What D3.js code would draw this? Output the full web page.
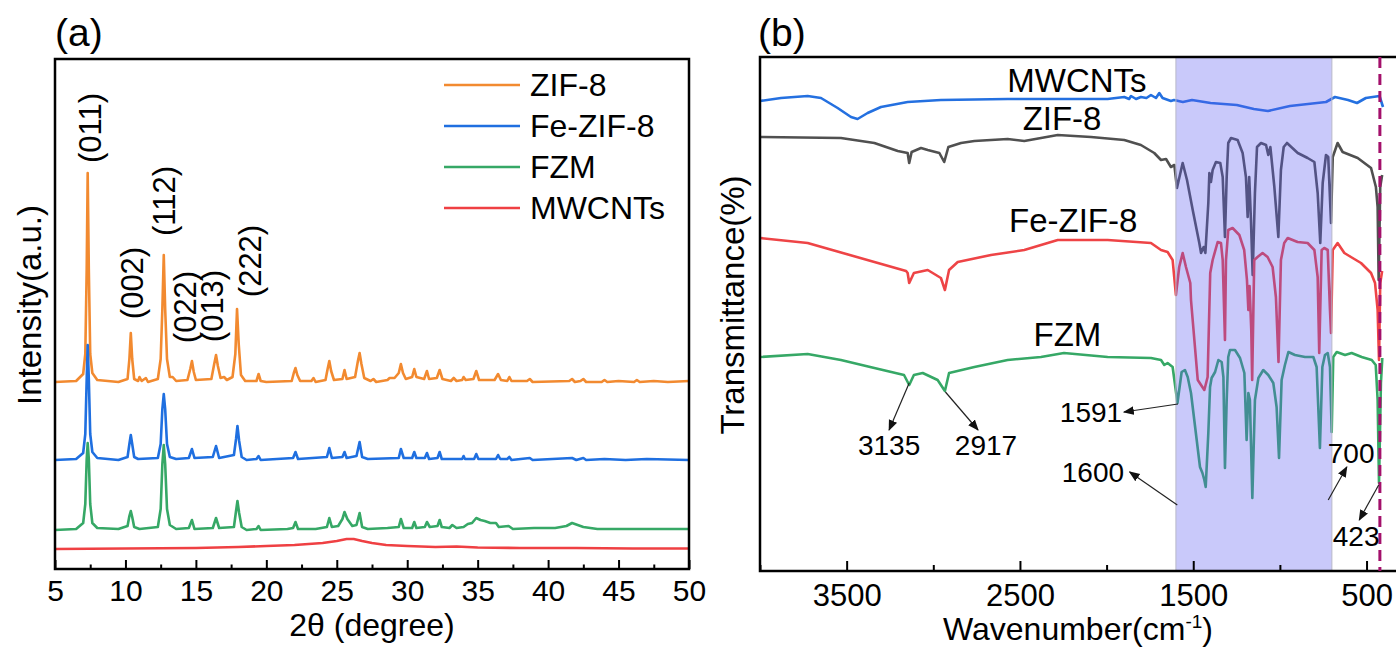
<!DOCTYPE html>
<html>
<head>
<meta charset="utf-8">
<script src="https://cdn.jsdelivr.net/npm/d3@7"></script>
<style>
  html, body { margin: 0; padding: 0; background: #fff; }
  svg text { font-family: "Liberation Sans", Arial, sans-serif; fill: #000; }
</style>
</head>
<body>
<svg id="fig" width="1396" height="647"></svg>
<script>
// ---------- panel (a): XRD, [2theta, intensity a.u.] (curves already offset) ----------
const xrdZif8 = [[5,187],[6.5,188],[7.0,195],[7.15,215],[7.25,300],[7.32,396],[7.4,300],[7.5,215],[7.65,196],[8.0,189],[9.5,187],
  [10.15,190],[10.28,210],[10.38,236],[10.48,210],[10.62,190],[10.9,188],[11.0,192],[11.15,188],[11.45,191],[11.6,187],
  [12.3,190],[12.5,210],[12.62,260],[12.72,314],[12.82,260],[12.95,210],[13.15,192],[13.35,192],[13.6,188],
  [14.4,189],[14.6,200],[14.72,208],[14.85,197],[15.0,189],[16.1,190],[16.3,205],[16.43,214],[16.56,203],[16.75,191],
  [17.0,192],[17.2,189],[17.6,192],[17.8,215],[17.92,260],[18.04,225],[18.2,194],[18.5,188],[19.3,188],[19.45,195],[19.6,188],
  [20.0,187],[21.8,188],[21.95,196],[22.07,201],[22.2,194],[22.4,188],[23.2,188],[23.35,191],[23.5,187],
  [24.2,189],[24.35,200],[24.47,208],[24.6,198],[24.8,189],[25.4,190],[25.55,199],[25.7,190],
  [26.3,192],[26.5,208],[26.62,216],[26.75,205],[26.95,191],[27.4,188],[27.6,190],[27.8,187],
  [28.6,189],[28.75,191],[29.1,191],[29.4,196],[29.55,205],[29.7,196],[29.9,190],[30.35,192],[30.5,200],[30.65,192],
  [31.2,190],[31.4,198],[31.55,190],[32.1,191],[32.3,199],[32.5,190],[33.1,188],[33.3,191],[33.5,188],
  [33.9,189],[34.0,192],[34.15,189],[34.7,190],[34.9,198],[35.1,189],[36.2,189],[36.45,195],[36.65,189],
  [37.1,188],[37.25,192],[37.4,188],[38.5,188],[38.7,190],[38.9,187],[41.5,188],[41.7,190],[41.9,187],
  [42.3,188],[42.5,190],[42.7,187],[43.8,187],[44.0,189],[44.2,187],[45.0,188],[46.1,187],[46.3,189],[46.5,187],
  [47.5,188],[48.5,187],[50,188]];

const xrdFeZif8 = [[5,109],[6.5,110],[7.0,116],[7.15,135],[7.25,190],[7.32,224],[7.4,190],[7.5,135],[7.65,117],[8.0,111],[9.5,109],
  [10.15,112],[10.28,125],[10.38,134],[10.48,125],[10.62,112],[10.9,110],[12.3,111],[12.5,125],[12.62,160],[12.72,175],
  [12.82,160],[12.95,125],[13.15,112],[13.6,110],[14.5,111],[14.72,120],[14.9,111],[16.2,112],[16.43,123],[16.65,111],
  [17.7,114],[17.85,130],[17.95,143],[18.07,128],[18.25,112],[18.6,109],[19.3,110],[19.45,113],[19.6,109],
  [21.9,111],[22.07,117],[22.25,110],[24.3,112],[24.47,121],[24.65,111],[25.4,112],[25.55,117],[25.7,111],
  [26.4,113],[26.62,127],[26.8,112],[27.2,110],[29.4,111],[29.55,120],[29.75,111],[30.35,111],[30.5,117],[30.65,111],
  [31.25,111],[31.4,116],[31.55,110],[32.15,111],[32.3,117],[32.45,110],[33.9,110],[34.0,113],[34.1,110],
  [34.75,110],[34.9,115],[35.05,110],[36.3,110],[36.45,114],[36.6,110],[37.1,110],[37.25,112],[37.4,109],
  [38.7,111],[38.9,109],[41.7,111],[42.0,109],[42.5,111],[42.7,109],[44.0,110],[45.5,109],[47.0,110],[50,109]];

const xrdFzm = [[5,39],[6.5,40],[7.0,46],[7.15,65],[7.25,110],[7.32,126],[7.4,110],[7.5,65],[7.65,46],[8.0,41],[9.5,40],
  [10.15,43],[10.28,53],[10.38,58],[10.48,52],[10.62,42],[11.0,40],[12.3,42],[12.5,60],[12.62,105],[12.72,124],
  [12.82,105],[12.95,60],[13.15,44],[13.6,40],[14.5,41],[14.72,49],[14.9,40],[16.2,41],[16.43,51],[16.65,41],
  [17.7,42],[17.85,58],[17.95,68],[18.07,56],[18.25,42],[18.6,39],[19.3,40],[19.45,43],[19.6,39],[21.5,40],
  [21.9,41],[22.07,47],[22.25,40],[23.5,40],[24.3,42],[24.47,51],[24.65,42],[25.1,43],[25.4,50],[25.55,57],
  [25.75,50],[26.1,43],[26.4,44],[26.62,56],[26.8,42],[27.2,40],[28.6,41],[29.4,42],[29.55,50],[29.75,41],
  [30.35,41],[30.5,47],[30.65,41],[31.25,42],[31.4,47],[31.6,42],[32.15,43],[32.3,49],[32.45,42],[33.0,41],
  [33.2,44],[33.5,41],[34.0,42],[34.3,45],[34.6,46],[34.9,51],[35.2,49],[35.5,48],[35.9,46],[36.3,46],[36.5,42],
  [37.2,43],[37.5,40],[39.0,41],[40.5,41],[41.3,43],[41.7,46],[42.1,44],[42.5,42],[43.5,40],[45.0,40],[47.5,40],[50,40]];

const xrdMwcnt = [[5,20],[10,20.5],[15,21],[18,22],[20,23],[22,24],[24,26],[25,28],[25.7,30],[26.2,30],[26.8,28],
  [27.5,26],[28.5,24],[30,23],[32,22],[33.5,22.5],[35,21.5],[38,21],[42,21],[46,20.5],[50,20.5]];

const xrdNames = ["ZIF-8", "Fe-ZIF-8", "FZM", "MWCNTs"];
const xrdColors = ["#f28a30", "#1f6fe0", "#36a866", "#ef4043"];
const xrdTicks = [5, 10, 15, 20, 25, 30, 35, 40, 45, 50];
const xrdMinorTicks = [7.5, 12.5, 17.5, 22.5, 27.5, 32.5, 37.5, 42.5, 47.5];
// hkl labels: [text, 2theta, intensity]
const hklLabels = [["(011)", 7.48, 441], ["(002)", 10.46, 286], ["(112)", 12.73, 368],
  ["(022)", 14.22, 262], ["(013)", 16.14, 263], ["(222)", 18.84, 308]];

// ---------- panel (b): FTIR, [wavenumber, transmittance a.u.] ----------
const ftirMwcnt = [[4000,470],[3879,473],[3725,475],[3648,473],[3552,463],[3475,454],[3437,452],[3379,458],[3302,464],
  [3148,469],[2956,471],[2571,472],[2186,472],[1994,472],[1898,474],[1870,472],[1859,475],[1830,472],[1802,474],
  [1770,473],[1744,476],[1715,473],[1696,478],[1677,473],[1629,470],[1611,471],[1560,469],[1507,471],[1400,468],
  [1249,466],[1150,462],[1069,460],[942,465],[734,469],[682,474],[607,471],[555,468],[504,473],[425,475],[405,464]];

const ftirZif8 = [[4000,434],[3533,433],[3340,428],[3205,420],[3148,418],[3139,408],[3125,419],[3071,423],[3032,421],
  [2965,418],[2937,409],[2913,424],[2840,428],[2763,430],[2571,432],[2475,430],[2282,436],[2090,434],[1898,431],
  [1802,426],[1725,418],[1686,411],[1657,412],[1629,404],[1609,406],[1594,383],[1561,408],[1536,391],[1503,361],
  [1465,328],[1455,318],[1440,324],[1430,318],[1413,368],[1407,398],[1398,389],[1388,401],[1369,409],[1344,408],
  [1330,394],[1317,334],[1307,394],[1298,428],[1282,433],[1244,431],[1215,418],[1196,394],[1186,354],[1177,394],
  [1167,351],[1157,296],[1144,378],[1132,424],[1109,428],[1080,426],[1067,416],[1055,424],[1032,384],[1009,334],
  [994,401],[978,424],[959,428],[897,418],[840,413],[801,409],[782,378],[767,328],[753,388],[734,416],[721,414],
  [705,348],[695,414],[667,428],[638,419],[551,413],[474,403],[446,384],[436,364],[430,291],[421,384],[410,396]];

const ftirFeZif8 = [[4000,333],[3725,328],[3340,309],[3157,300],[3148,298],[3139,288],[3112,298],[3032,301],[2956,293],
  [2933,281],[2909,301],[2859,309],[2667,316],[2475,321],[2282,331],[1994,331],[1744,328],[1686,321],[1648,319],
  [1619,311],[1600,276],[1581,304],[1561,318],[1542,304],[1517,288],[1513,271],[1474,191],[1455,186],[1436,181],
  [1417,194],[1402,298],[1388,311],[1359,329],[1340,328],[1330,311],[1317,231],[1311,311],[1298,341],[1273,343],
  [1234,336],[1206,321],[1190,291],[1182,261],[1175,285],[1165,240],[1160,191],[1148,311],[1129,314],[1100,318],
  [1071,314],[1042,304],[1023,274],[1008,209],[994,311],[975,328],[955,333],[898,329],[840,328],[801,321],[782,294],
  [773,218],[759,321],[744,323],[724,321],[711,261],[705,238],[695,321],[667,328],[628,318],[590,314],[532,308],
  [474,298],[451,288],[436,261],[428,211],[421,288],[410,300]];

const ftirFzm = [[4000,214],[3725,217],[3533,211],[3340,203],[3169,196],[3139,186],[3112,196],[3061,198],[2975,191],
  [2933,180],[2909,198],[2763,204],[2571,211],[2379,214],[2246,218],[1994,214],[1744,213],[1686,211],[1667,206],
  [1648,208],[1619,204],[1591,168],[1567,199],[1548,201],[1532,194],[1513,178],[1480,131],[1461,104],[1447,98],
  [1436,91],[1428,84],[1413,138],[1403,184],[1394,193],[1374,199],[1355,211],[1336,209],[1326,194],[1317,103],
  [1307,171],[1298,214],[1288,221],[1259,221],[1230,213],[1205,198],[1192,131],[1182,178],[1173,171],[1159,73],
  [1144,171],[1124,193],[1096,201],[1067,196],[1038,188],[1019,164],[1005,113],[990,191],[971,206],[951,219],
  [913,216],[855,214],[807,214],[788,204],[769,123],[755,204],[740,216],[724,218],[711,204],[701,139],[692,214],
  [672,219],[624,216],[586,218],[528,214],[470,211],[447,206],[436,171],[428,88],[417,188],[409,213]];

const ftirNames = ["MWCNTs", "ZIF-8", "Fe-ZIF-8", "FZM"];
const ftirColors = ["#2470e0", "#505050", "#ee4446", "#36a866"];
// curve name labels: [wavenumber, transmittance]
const ftirNamePos = [[2171, 491], [2257, 453], [2193, 351], [2226, 237]];
const ftirTicks = [3500, 2500, 1500, 500];
const ftirMinorTicks = [4000, 3000, 2000, 1000];
const shadeBand = [1600, 700];
const dashedAt = 423;
// annotations: [label, tail wn, tail T, head wn, head T, label wn, label T]
const ftirNotes = [["3135", 3139, 188, 3255, 141, 3255, 126], ["2917", 2930, 179, 2742, 141, 2696, 126],
  ["1591", 1588, 167, 1900, 159, 2090, 159], ["1600", 1592, 66, 1867, 99, 2079, 99],
  ["700", 721, 71, 614, 104, 589, 118], ["423", 430, 86, 542, 51, 560, 35]];

const svg = d3.select("#fig");

svg.append("defs").append("marker")
    .attr("id", "arrowhead")
    .attr("viewBox", "0 0 10 10")
    .attr("refX", 9).attr("refY", 5)
    .attr("markerWidth", 11).attr("markerHeight", 11)
    .attr("markerUnits", "userSpaceOnUse")
    .attr("orient", "auto")
    .append("path").attr("d", "M0,1 L10,5 L0,9 Z").attr("fill", "#111");

// ================= panel (a) =================
const xA = d3.scaleLinear().domain([5, 50]).range([55, 689]);
const yA = d3.scaleLinear().domain([0, 510]).range([569, 59]);
const lineA = d3.line().x(d => xA(d[0])).y(d => yA(d[1]));

const gA = svg.append("g");
[xrdZif8, xrdFeZif8, xrdFzm, xrdMwcnt].forEach((s, i) => {
    gA.append("path").datum(s)
        .attr("fill", "none")
        .attr("stroke", xrdColors[i])
        .attr("stroke-width", 2.6)
        .attr("stroke-linejoin", "round")
        .attr("d", lineA);
});

// ticks point inward
gA.append("g").attr("transform", `translate(0,${yA(0)})`)
    .call(d3.axisBottom(xA).tickValues(xrdMinorTicks).tickSizeInner(-4.5).tickSizeOuter(0).tickFormat(""))
    .call(g => g.select(".domain").remove())
    .selectAll("line").attr("stroke", "#000").attr("stroke-width", 2);
const axA = gA.append("g").attr("transform", `translate(0,${yA(0)})`)
    .call(d3.axisBottom(xA).tickValues(xrdTicks).tickSizeInner(-9).tickSizeOuter(0).tickPadding(11).tickFormat(d3.format("d")));
axA.select(".domain").remove();
axA.selectAll("line").attr("stroke", "#000").attr("stroke-width", 2);
axA.selectAll("text").attr("font-size", 30).attr("font-family", "Liberation Sans, Arial, sans-serif").attr("fill", "#000");

gA.append("rect")
    .attr("x", xA(5)).attr("y", yA(510))
    .attr("width", xA(50) - xA(5)).attr("height", yA(0) - yA(510))
    .attr("fill", "none").attr("stroke", "#000").attr("stroke-width", 2.5);

hklLabels.forEach(d => {
    gA.append("text")
        .attr("transform", `translate(${xA(d[1])},${yA(d[2])}) rotate(-90)`)
        .attr("text-anchor", "middle").attr("dy", "0.35em")
        .attr("font-size", 31)
        .text(d[0]);
});

// legend
xrdNames.forEach((name, i) => {
    const ly = 85 + i * 41;
    gA.append("line").attr("x1", 444).attr("x2", 520).attr("y1", ly).attr("y2", ly)
        .attr("stroke", xrdColors[i]).attr("stroke-width", 2.6);
    gA.append("text").attr("x", 530).attr("y", ly).attr("dy", "0.35em")
        .attr("font-size", 32).text(name);
});

gA.append("text").attr("x", xA(27.5)).attr("y", 636).attr("text-anchor", "middle")
    .attr("font-size", 32).text("2θ (degree)");
gA.append("text").attr("transform", `translate(29,305) rotate(-90)`)
    .attr("text-anchor", "middle").attr("dy", "0.35em")
    .attr("font-size", 33).text("Intensity(a.u.)");
gA.append("text").attr("x", 55).attr("y", 46).attr("font-size", 39).text("(a)");

// ================= panel (b) =================
const xB = d3.scaleLinear().domain([4000, 330]).range([760, 1396]);
const yB = d3.scaleLinear().domain([0, 514]).range([571, 57]);
const lineB = d3.line().x(d => xB(d[0])).y(d => yB(d[1]));

const gB = svg.append("g");
[ftirMwcnt, ftirZif8, ftirFeZif8, ftirFzm].forEach((s, i) => {
    gB.append("path").datum(s)
        .attr("fill", "none")
        .attr("stroke", ftirColors[i])
        .attr("stroke-width", 2.6)
        .attr("stroke-linejoin", "round")
        .attr("d", lineB);
});

// translucent band drawn over the curves
gB.append("rect")
    .attr("x", xB(shadeBand[0])).attr("y", yB(514))
    .attr("width", xB(shadeBand[1]) - xB(shadeBand[0])).attr("height", yB(0) - yB(514))
    .attr("fill", "rgb(90,90,240)").attr("fill-opacity", 0.33);
shadeBand.forEach(w => {
    gB.append("line").attr("x1", xB(w)).attr("x2", xB(w)).attr("y1", yB(514)).attr("y2", yB(0))
        .attr("stroke", "#b8b8c8").attr("stroke-width", 1);
});

gB.append("g").attr("transform", `translate(0,${yB(0)})`)
    .call(d3.axisBottom(xB).tickValues(ftirMinorTicks).tickSizeInner(-6).tickSizeOuter(0).tickFormat(""))
    .call(g => g.select(".domain").remove())
    .selectAll("line").attr("stroke", "#000").attr("stroke-width", 2);
const axB = gB.append("g").attr("transform", `translate(0,${yB(0)})`)
    .call(d3.axisBottom(xB).tickValues(ftirTicks).tickSizeInner(-10).tickSizeOuter(0).tickPadding(13).tickFormat(d3.format("d")));
axB.select(".domain").remove();
axB.selectAll("line").attr("stroke", "#000").attr("stroke-width", 2);
axB.selectAll("text").attr("font-size", 31).attr("font-family", "Liberation Sans, Arial, sans-serif").attr("fill", "#000");

gB.append("rect")
    .attr("x", xB(4000)).attr("y", yB(514))
    .attr("width", xB(330) - xB(4000) + 4).attr("height", yB(0) - yB(514))
    .attr("fill", "none").attr("stroke", "#000").attr("stroke-width", 2.5);

gB.append("line")
    .attr("x1", xB(dashedAt)).attr("x2", xB(dashedAt))
    .attr("y1", yB(514)).attr("y2", yB(0))
    .attr("stroke", "#a3106b").attr("stroke-width", 3)
    .attr("stroke-dasharray", "11,6");

ftirNames.forEach((name, i) => {
    gB.append("text").attr("x", xB(ftirNamePos[i][0])).attr("y", yB(ftirNamePos[i][1]))
        .attr("text-anchor", "middle").attr("dy", "0.35em")
        .attr("font-size", 33).text(name);
});

ftirNotes.forEach(d => {
    gB.append("line")
        .attr("x1", xB(d[1])).attr("y1", yB(d[2]))
        .attr("x2", xB(d[3])).attr("y2", yB(d[4]))
        .attr("stroke", "#222").attr("stroke-width", 1.2)
        .attr("marker-end", "url(#arrowhead)");
    gB.append("text").attr("x", xB(d[5])).attr("y", yB(d[6]))
        .attr("text-anchor", "middle").attr("dy", "0.35em")
        .attr("font-size", 28).text(d[0]);
});

const xt = gB.append("text").attr("x", (xB(4000) + xB(330)) / 2).attr("y", 640)
    .attr("text-anchor", "middle").attr("font-size", 32);
xt.append("tspan").text("Wavenumber(cm");
xt.append("tspan").attr("dy", -12).attr("font-size", 19).text("-1");
xt.append("tspan").attr("dy", 12).text(")");

gB.append("text").attr("transform", `translate(732,305) rotate(-90)`)
    .attr("text-anchor", "middle").attr("dy", "0.35em")
    .attr("font-size", 33).text("Transmittance(%)");
gB.append("text").attr("x", 758).attr("y", 46).attr("font-size", 39).text("(b)");
</script>
</body>
</html>
